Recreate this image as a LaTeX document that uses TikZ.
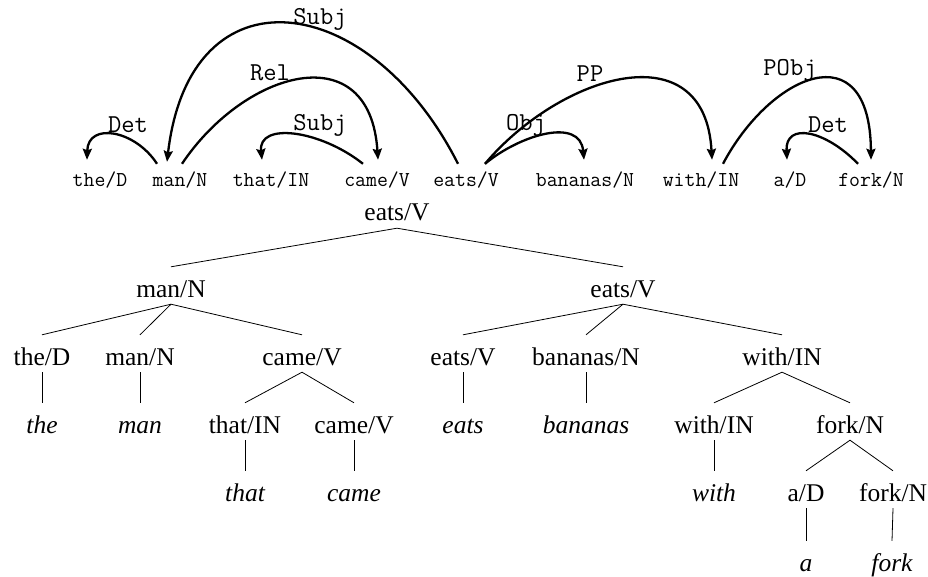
\documentclass[tikz,border=0pt]{standalone}
\usepackage{fontspec}
\setmainfont{Liberation Serif}
\usetikzlibrary{arrows.meta}
\begin{document}
\begin{tikzpicture}[x=1pt,y=-1pt,
  tn/.style={font=\fontsize{25.5}{30}\selectfont, inner sep=0pt, text height=30pt, text depth=7pt, anchor=base},
  tw/.style={font=\fontsize{25.5}{30}\selectfont\itshape, inner sep=0pt, text height=30pt, text depth=7pt, anchor=base},
  word/.style={font=\ttfamily\fontsize{21.2}{25}\selectfont, inner sep=0pt, text height=23pt, text depth=0pt, anchor=base},
  lab/.style={font=\ttfamily\fontsize{25.8}{30}\selectfont, inner sep=0pt, anchor=base},
  arc/.style={line width=2.3pt, -{Stealth[length=11pt,width=9pt,inset=1.5pt]}},
  edge/.style={line width=0.8pt}]
\useasboundingbox (0,0) rectangle (928,577);
\fill[white] (0,0) rectangle (928,577);
% dependency words
\node[word] (wthe) at (100,187) {the/D};
\node[word] (wman) at (180,187) {man/N};
\node[word] (wthat) at (271,187) {that/IN};
\node[word] (wcame) at (377,187) {came/V};
\node[word] (weats) at (466,187) {eats/V};
\node[word] (wban) at (585,187) {bananas/N};
\node[word] (wwith) at (701,187) {with/IN};
\node[word] (wa) at (790,187) {a/D};
\node[word] (wfork) at (871,187) {fork/N};
% arcs
\draw[arc] ([xshift=-23pt]wman.north) .. controls +(-22,-34) and +(1,-38) .. ([xshift=-13pt,yshift=4pt]wthe.north);
\draw[arc] ([xshift=-8pt]weats.north) .. controls +(-88,-174) and +(23,-197) .. ([xshift=-13pt,yshift=2pt]wman.north);
\draw[arc] ([xshift=2pt]wman.north) .. controls +(63,-94) and +(-8,-125) .. ([xshift=1pt,yshift=4pt]wcame.north);
\draw[arc] ([xshift=-14pt]wcame.north) .. controls +(-43,-34) and +(-4,-38) .. ([xshift=-9pt,yshift=4pt]wthat.north);
\draw[arc] ([xshift=19pt]weats.north) .. controls +(35,-29) and +(-4,-43) .. ([xshift=-1pt,yshift=4pt]wban.north);
\draw[arc] ([xshift=19pt]weats.north) .. controls +(75,-89) and +(-7,-130) .. ([xshift=11pt,yshift=4pt]wwith.north);
\draw[arc] ([xshift=22pt]wwith.north) .. controls +(47,-89) and +(-1,-130) .. ([xshift=0pt,yshift=4pt]wfork.north);
\draw[arc] ([xshift=-13pt]wfork.north) .. controls +(-33,-34) and +(-2,-38) .. ([xshift=-3pt,yshift=4pt]wa.north);
% labels
\node[lab] (lsubj1) at (320,25) {Subj};
\node[lab] (lrel) at (270,81) {Rel};
\node[lab] (lsubj2) at (320,131) {Subj};
\node[lab] (ldet1) at (128,133) {Det};
\node[lab] (lobj) at (526,131) {Obj};
\node[lab] (lpp) at (590,82) {PP};
\node[lab] (lpobj) at (790,76) {PObj};
\node[lab] (ldet2) at (828,133) {Det};
% tree
\node[tn] (r) at (397,221) {eats/V};
\node[tn] (m1) at (171,297) {man/N};
\node[tn] (e1) at (623,297) {eats/V};
\node[tn] (the2) at (42,365) {the/D};
\node[tn] (man2) at (140,365) {man/N};
\node[tn] (came2) at (302,365) {came/V};
\node[tn] (eats2) at (463,365) {eats/V};
\node[tn] (ban2) at (586,365) {bananas/N};
\node[tn] (with2) at (782,365) {with/IN};
\node[tw] (theW) at (42,433) {the};
\node[tw] (manW) at (140,433) {man};
\node[tn] (that3) at (245,433) {that/IN};
\node[tn] (came3) at (354,433) {came/V};
\node[tw] (eatsW) at (463,433) {eats};
\node[tw] (banW) at (586,433) {bananas};
\node[tn] (with3) at (714,433) {with/IN};
\node[tn] (fork3) at (850,433) {fork/N};
\node[tw] (thatW) at (245,501) {that};
\node[tw] (cameW) at (354,501) {came};
\node[tw] (withW) at (714,501) {with};
\node[tn] (a4) at (806,501) {a/D};
\node[tn] (fork4) at (893,501) {fork/N};
\node[tw] (aW) at (806,571) {a};
\node[tw] (forkW) at (892,571) {fork};
% edges
\draw[edge] (m1.north) -- (r.south) -- (e1.north);
\draw[edge] (the2.north) -- (m1.south) -- (came2.north);
\draw[edge] (m1.south) -- (man2.north);
\draw[edge] (eats2.north) -- (e1.south) -- (with2.north);
\draw[edge] (e1.south) -- (ban2.north);
\draw[edge] (the2.south) -- (theW.north);
\draw[edge] (man2.south) -- (manW.north);
\draw[edge] (that3.north) -- (came2.south) -- (came3.north);
\draw[edge] (eats2.south) -- (eatsW.north);
\draw[edge] (ban2.south) -- (banW.north);
\draw[edge] (with3.north) -- (with2.south) -- (fork3.north);
\draw[edge] (that3.south) -- (thatW.north);
\draw[edge] (came3.south) -- (cameW.north);
\draw[edge] (with3.south) -- (withW.north);
\draw[edge] (a4.north) -- (fork3.south) -- (fork4.north);
\draw[edge] (a4.south) -- (aW.north);
\draw[edge] (fork4.south) -- (forkW.north);
\end{tikzpicture}
\end{document}
